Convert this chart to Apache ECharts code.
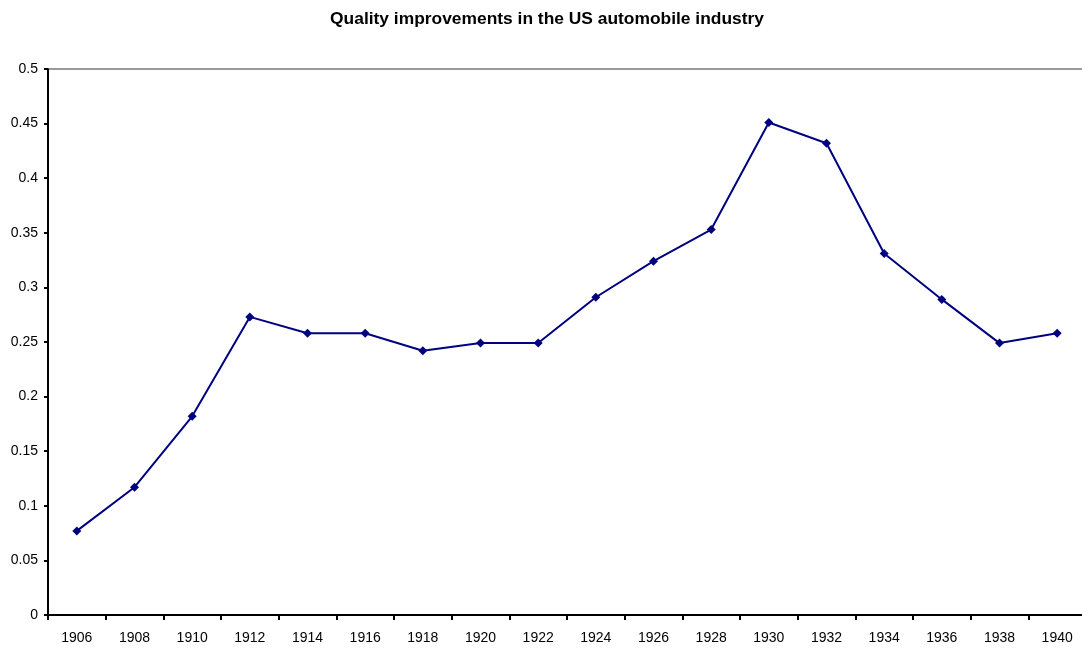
<!DOCTYPE html>
<html><head><meta charset="utf-8">
<script src="https://cdn.jsdelivr.net/npm/echarts@6/dist/echarts.min.js"></script>
<style>html,body{margin:0;padding:0;background:#fff;overflow:hidden}#c{width:1086px;height:651px}</style>
</head><body><div id="c"></div>
<script>
const years = ['1906','1908','1910','1912','1914','1916','1918','1920','1922','1924','1926','1928','1930','1932','1934','1936','1938','1940'];
const quality = [0.077,0.117,0.182,0.273,0.258,0.258,0.242,0.249,0.249,0.291,0.324,0.353,0.451,0.432,0.331,0.289,0.249,0.258];
const yTicks = {min:0, max:0.5, interval:0.05};
const chart = echarts.init(document.getElementById('c'), null, {renderer:'canvas'});
chart.setOption({
  animation:false,
  title:{text:'Quality improvements in the US automobile industry',left:542,textAlign:'center',top:6,
    textStyle:{fontFamily:'Liberation Sans, Arial',fontSize:17.4,fontWeight:'bold',color:'#000'}},
  grid:{left:48,right:0,top:69,bottom:36},
  xAxis:{type:'category',data:years,boundaryGap:true,
    axisLine:{lineStyle:{color:'#000',width:2}},
    axisTick:{show:true,length:5,lineStyle:{color:'#000',width:2}},
    axisLabel:{color:'#000',fontFamily:'Liberation Sans, Arial',fontSize:14,margin:16},
    splitLine:{show:false}},
  yAxis:{type:'value',min:yTicks.min,max:yTicks.max,interval:yTicks.interval,
    axisLine:{show:true,lineStyle:{color:'#000',width:2}},
    axisTick:{show:true,length:4,lineStyle:{color:'#000',width:2}},
    axisLabel:{color:'#000',fontFamily:'Liberation Sans, Arial',fontSize:14,margin:10,
      formatter:v=>String(Math.round(v*100)/100)},
    splitLine:{show:false}},
  series:[{type:'line',data:quality,symbol:'diamond',symbolSize:9,
    lineStyle:{color:'#000080',width:2},itemStyle:{color:'#000080'}}]
});
const topY = chart.convertToPixel({yAxisIndex:0},yTicks.max);
chart.setOption({graphic:[{type:'line',shape:{x1:49,y1:topY,x2:1082,y2:topY},style:{stroke:'#999',lineWidth:2},z:1}]});
</script></body></html>
